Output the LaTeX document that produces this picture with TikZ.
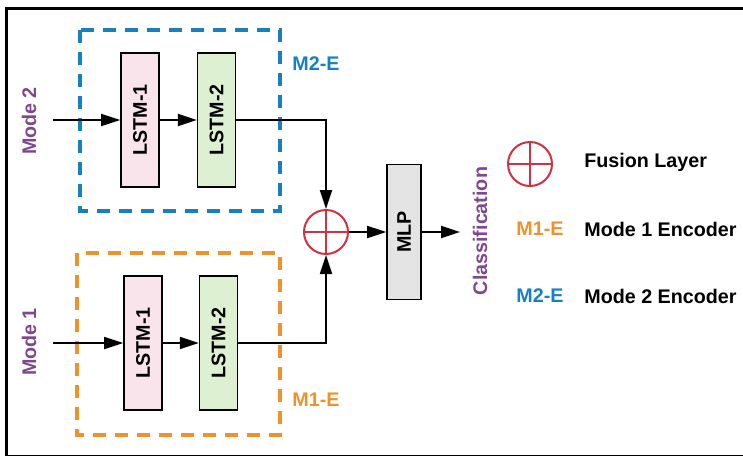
\documentclass[tikz,border=0pt]{standalone}
\usepackage{fontspec}
\setmainfont{Liberation Sans}
\usetikzlibrary{arrows.meta,positioning}

\definecolor{encblue}{RGB}{22,128,194}
\definecolor{encorange}{RGB}{240,146,42}
\definecolor{modepurple}{RGB}{126,71,142}
\definecolor{fusered}{RGB}{208,50,64}
\definecolor{lstmpink}{RGB}{250,228,236}
\definecolor{lstmgreen}{RGB}{222,240,210}
\definecolor{mlpgray}{RGB}{228,228,228}

\begin{document}
\begin{tikzpicture}[
  x=0.5pt, y=-0.5pt,
  font=\fontsize{9.85}{12}\selectfont\bfseries,
  >={Triangle[length=9.5pt,width=6pt]},
  lstm/.style={draw, line width=0.8pt, minimum width=19pt, minimum height=67pt, inner sep=0pt},
  mlpbox/.style={draw, line width=0.8pt, fill=mlpgray, minimum width=17pt, minimum height=67.5pt, inner sep=0pt},
  fuse/.style={circle, draw=fusered, line width=1pt, minimum size=22pt, inner sep=0pt,
    path picture={\draw[fusered, line width=0.9pt]
      (path picture bounding box.north) -- (path picture bounding box.south)
      (path picture bounding box.west) -- (path picture bounding box.east);}},
  enc/.style={line width=1.7pt, dash pattern=on 6.5pt off 4.5pt},
  arr/.style={->, line width=0.9pt},
  lbl/.style={inner sep=0pt},
]
\useasboundingbox (0,0) rectangle (743,455);
\clip (0,0) rectangle (743,455);
\draw[line width=1.5pt] (6,8.5) rectangle (780,456);

% mode 2 encoder
\draw[enc, encblue] (80,30) rectangle (280,211);
\node[lstm, fill=lstmpink] (lstm21) at (140,120) {\rotatebox{90}{LSTM-1}};
\node[lstm, fill=lstmgreen, right=18.5pt of lstm21] (lstm22) {\rotatebox{90}{LSTM-2}};
\node[lbl, text=encblue] (m2e) at (316,64) {M2-E};
\node[lbl, text=modepurple, rotate=90] (mode2) at (29,121) {Mode 2};
\coordinate (in2) at (53,120);

% mode 1 encoder
\draw[enc, encorange] (77,253) rectangle (280,435);
\node[lstm, fill=lstmpink] (lstm11) at (143,343) {\rotatebox{90}{LSTM-1}};
\node[lstm, fill=lstmgreen, right=18pt of lstm11] (lstm12) {\rotatebox{90}{LSTM-2}};
\node[lbl, text=encorange] (m1e) at (316,400) {M1-E};
\node[lbl, text=modepurple, rotate=90] (mode1) at (29,342) {Mode 1};
\coordinate (in1) at (53,343);

% fusion and classifier
\node[fuse] (fuse) at (326,232) {};
\node[mlpbox] (mlp) at (404,232) {\rotatebox{90}{MLP}};
\coordinate (out) at (460,232);
\node[lbl, text=modepurple, rotate=90] (cls) at (480,231) {Classification};

\draw[arr] (in2) -- (lstm21);
\draw[arr] (lstm21) -- (lstm22);
\draw[arr] (lstm22.east) -| (fuse);
\draw[arr] (in1) -- (lstm11);
\draw[arr] (lstm11) -- (lstm12);
\draw[arr] (lstm12.east) -| (fuse);
\draw[arr] (fuse) -- (mlp);
\draw[arr] (mlp) -- (out);

% legend
\node[fuse] (legfuse) at (530,164) {};
\node[lbl, anchor=west] (legfusetxt) at (584,162) {Fusion Layer};
\node[lbl, text=encorange] (legm1) at (540,229) {M1-E};
\node[lbl, anchor=west] (legm1txt) at (584,229) {Mode 1 Encoder};
\node[lbl, text=encblue] (legm2) at (540,296) {M2-E};
\node[lbl, anchor=west] (legm2txt) at (584,296) {Mode 2 Encoder};
\end{tikzpicture}
\end{document}
